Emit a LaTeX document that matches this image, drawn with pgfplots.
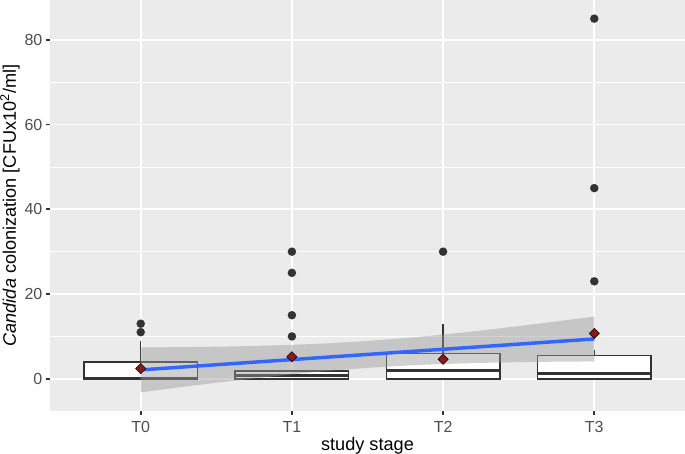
\documentclass[border=0pt]{standalone}
\usepackage{pgfplots}
\pgfplotsset{compat=1.18}
\usepgfplotslibrary{statistics}
\usepackage{fontspec}
\setmainfont{Liberation Sans}
\definecolor{panel}{HTML}{EBEBEB}
\definecolor{g20}{HTML}{333333}
\definecolor{g30}{HTML}{4D4D4D}
\definecolor{meanred}{HTML}{8B1A1A}
\definecolor{smoothblue}{HTML}{3366FF}
\definecolor{bandgrey}{HTML}{999999}
\begin{document}
\begin{tikzpicture}
\begin{axis}[
  scale only axis, width=476.25pt, height=308.25pt,
  xmin=-0.6, xmax=3.6, ymin=-7.6, ymax=89.4,
  axis background/.style={fill=panel},
  axis line style={draw=none},
  xtick={0,1,2,3}, xticklabels={T0,T1,T2,T3},
  ytick={0,20,40,60,80}, minor ytick={10,30,50,70},
  grid=both,
  major grid style={white, line width=1.27pt},
  minor grid style={white, line width=0.64pt},
  tick align=outside, tick pos=left,
  major tick length=3.3pt, minor tick length=0pt,
  every tick/.style={g20, line width=1.27pt},
  /pgf/number format/assume math mode=true,
  ticklabel style={font=\fontsize{12}{14}\selectfont, text=g30, inner sep=0pt},
  xticklabel style={anchor=base, yshift=-12.6pt},
  yticklabel style={anchor=east, xshift=-2.2pt},
  xlabel={study stage}, ylabel={\textit{Candida} colonization [CFUx10\textsuperscript{2}/ml]},
  every axis x label/.style={at={(axis description cs:0.5,0)}, anchor=base, yshift=-29.6pt, font=\fontsize{13.6}{16}\selectfont, inner sep=0pt},
  every axis y label/.style={at={(axis description cs:0,0.5)}, xshift=-25.5pt, rotate=90, anchor=base, font=\fontsize{13.6}{16}\selectfont, inner sep=0pt},
  boxplot/draw direction=y,
  boxplot/box extend=0.75,
  boxplot/whisker extend=0,
  boxplot/every median/.style={line width=2.3pt},
  clip=false,
]
% boxplots with outliers
\addplot[boxplot prepared={draw position=0, lower whisker=0, lower quartile=0, median=0, upper quartile=4, upper whisker=9},
  draw=g20, fill=white, line width=1.1pt, mark=*, mark size=2.6pt, mark options={fill=g20, draw=none}]
  table[row sep=\\, y index=0] {13\\ 11\\};
\addplot[boxplot prepared={draw position=1, lower whisker=0, lower quartile=0, median=0.85, upper quartile=1.8, upper whisker=1.8},
  draw=g20, fill=white, line width=1.1pt, mark=*, mark size=2.6pt, mark options={fill=g20, draw=none}]
  table[row sep=\\, y index=0] {30\\ 25\\ 15\\ 10\\};
\addplot[boxplot prepared={draw position=2, lower whisker=0, lower quartile=0, median=2.0, upper quartile=6.0, upper whisker=13},
  draw=g20, fill=white, line width=1.1pt, mark=*, mark size=2.6pt, mark options={fill=g20, draw=none}]
  table[row sep=\\, y index=0] {30\\};
\addplot[boxplot prepared={draw position=3, lower whisker=0, lower quartile=0, median=1.2, upper quartile=5.5, upper whisker=6.8},
  draw=g20, fill=white, line width=1.1pt, mark=*, mark size=2.6pt, mark options={fill=g20, draw=none}]
  table[row sep=\\, y index=0] {85\\ 45\\ 23\\};
% means
\addplot[only marks, mark=square*, mark size=2.7pt, mark options={rotate=45, fill=meanred, draw=none}]
  coordinates {(0,2.4) (1,5.2) (2,4.6) (3,10.7)};
% confidence band
\addplot[fill=bandgrey, fill opacity=0.45, draw=none] coordinates {
  (0,7.40) (0.25,7.46) (0.5,7.57) (0.75,7.74) (1,8.00) (1.25,8.39) (1.5,8.92)
  (1.75,9.61) (2,10.44) (2.25,11.39) (2.5,12.43) (2.75,13.54) (3,14.70)
  (3,4.10) (2.75,4.04) (2.5,3.93) (2.25,3.75) (2,3.50) (1.75,3.11) (1.5,2.58)
  (1.25,1.89) (1,1.06) (0.75,0.10) (0.5,-0.93) (0.25,-2.04) (0,-3.20)
} -- cycle;
% regression line
\addplot[smoothblue, line width=2.6pt] coordinates {(0,2.1) (3,9.4)};
\end{axis}
\pgfresetboundingbox
\path[use as bounding box] ([xshift=-37.5pt,yshift=-32.25pt]current axis.south west) rectangle (current axis.north east);
\end{tikzpicture}
\end{document}
